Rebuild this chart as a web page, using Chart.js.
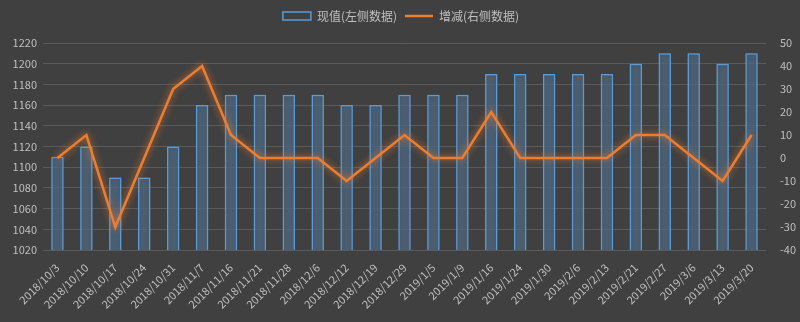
<!DOCTYPE html>
<html>
<head>
<meta charset="utf-8">
<script src="https://cdn.jsdelivr.net/npm/chart.js@4/dist/chart.umd.min.js"></script>
<style>
  html, body { margin: 0; padding: 0; background: #404040; }
  #wrap { width: 800px; height: 322px; }
</style>
</head>
<body>
<div id="wrap"><canvas id="chart" width="800" height="322"></canvas></div>
<script>
const dates = ['2018/10/3', '2018/10/10', '2018/10/17', '2018/10/24', '2018/10/31', '2018/11/7',
  '2018/11/16', '2018/11/21', '2018/11/28', '2018/12/6', '2018/12/12', '2018/12/19', '2018/12/29',
  '2019/1/5', '2019/1/9', '2019/1/16', '2019/1/24', '2019/1/30', '2019/2/6', '2019/2/13',
  '2019/2/21', '2019/2/27', '2019/3/6', '2019/3/13', '2019/3/20'];
const currentValues = [1110, 1120, 1090, 1090, 1120, 1160, 1170, 1170, 1170, 1170, 1160, 1160, 1170,
  1170, 1170, 1190, 1190, 1190, 1190, 1190, 1200, 1210, 1210, 1200, 1210];
const changes = [0, 10, -30, 0, 30, 40, 10, 0, 0, 0, -10, 0, 10, 0, 0, 20, 0, 0, 0, 0, 10, 10, 0, -10, 10];

const textColor = '#bfbfbf';
const fontFamily = '"Microsoft YaHei", "Noto Sans CJK SC", "DejaVu Sans", sans-serif';

// soft glow round bars and line
const glowPlugin = {
  id: 'glow',
  beforeDatasetDraw(chart, args) {
    const ctx = chart.ctx;
    ctx.save();
    ctx.shadowColor = args.index === 0 ? 'rgba(91,155,213,0.9)' : 'rgba(237,125,49,0.9)';
    ctx.shadowBlur = 7;
  },
  afterDatasetDraw(chart) {
    chart.ctx.restore();
  }
};

// a bit more room under the legend
const legendSpace = {
  id: 'legendSpace',
  beforeInit(chart) {
    const fit = chart.legend.fit;
    chart.legend.fit = function () {
      fit.call(this);
      this.height += 11;
    };
  }
};

new Chart(document.getElementById('chart'), {
  type: 'bar',
  data: {
    labels: dates,
    datasets: [{
      label: '现值(左侧数据)',
      data: currentValues,
      yAxisID: 'y',
      backgroundColor: 'rgba(75,85,98,0.55)',
      borderColor: '#5b9bd5',
      borderWidth: 1.5,
      barPercentage: 0.43,
      categoryPercentage: 1,
      order: 2
    }, {
      type: 'line',
      label: '增减(右侧数据)',
      data: changes,
      yAxisID: 'y1',
      borderColor: '#ed7d31',
      backgroundColor: '#ed7d31',
      borderWidth: 2.5,
      pointRadius: 0,
      tension: 0,
      order: 1
    }]
  },
  options: {
    responsive: false,
    animation: false,
    layout: { padding: { left: 2, right: 0, top: 2, bottom: 8 } },
    plugins: {
      legend: {
        position: 'top',
        labels: {
          color: textColor,
          font: { family: fontFamily, size: 12 },
          usePointStyle: true,
          pointStyleWidth: 28,
          boxHeight: 8,
          padding: 8,
          generateLabels() {
            return [{
              text: '现值(左侧数据)', fillStyle: 'rgba(0,0,0,0)', strokeStyle: '#5b9bd5',
              lineWidth: 1.5, fontColor: textColor, datasetIndex: 0, pointStyle: 'rect'
            }, {
              text: '增减(右侧数据)', fillStyle: '#ed7d31', strokeStyle: '#ed7d31',
              lineWidth: 2.5, fontColor: textColor, datasetIndex: 1, pointStyle: 'line'
            }];
          }
        }
      },
      tooltip: { enabled: false }
    },
    scales: {
      x: {
        grid: { display: false },
        border: { display: false },
        ticks: {
          color: textColor,
          font: { family: fontFamily, size: 11 },
          maxRotation: 45,
          minRotation: 45,
          autoSkip: false
        }
      },
      y: {
        position: 'left',
        min: 1020,
        max: 1220,
        grid: { color: '#5a5a5a', lineWidth: 1, drawTicks: false },
        border: { display: false },
        afterFit(scale) { scale.width = 41; },
        ticks: {
          stepSize: 20,
          color: textColor,
          padding: 6,
          font: { family: fontFamily, size: 11 },
          callback: v => String(v)
        }
      },
      y1: {
        position: 'right',
        min: -40,
        max: 50,
        grid: { display: false },
        border: { display: false },
        afterFit(scale) { scale.width = 34; },
        ticks: {
          stepSize: 10,
          color: textColor,
          padding: 6,
          font: { family: fontFamily, size: 11 }
        }
      }
    }
  },
  plugins: [glowPlugin, legendSpace]
});
</script>
</body>
</html>
